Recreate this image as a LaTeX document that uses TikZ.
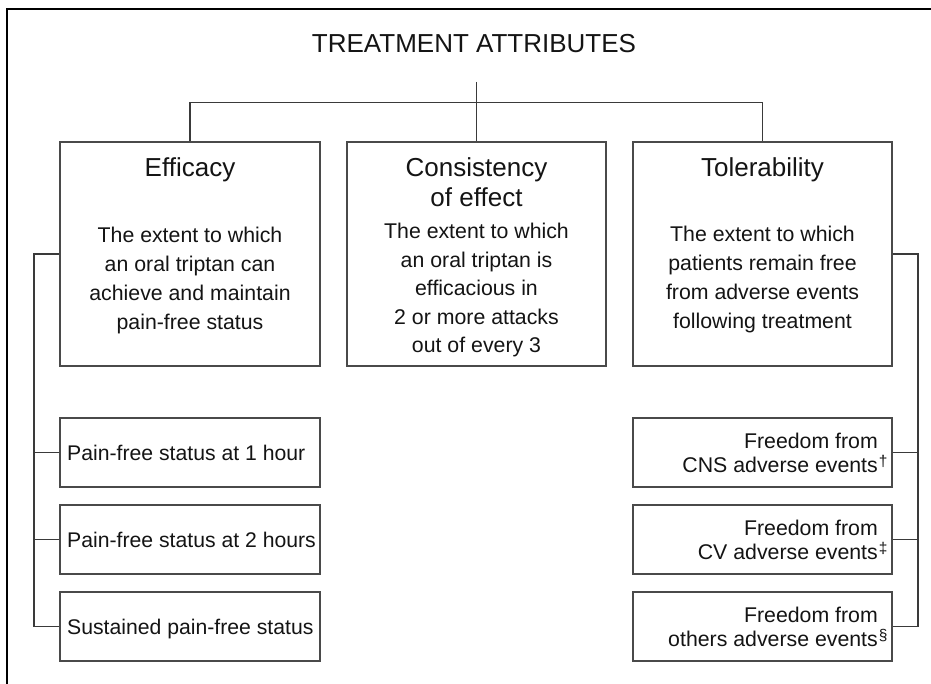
\documentclass[tikz,border=0pt]{standalone}
\usepackage{fontspec}
\setmainfont{Liberation Sans}
\newcommand\cstack[1]{\vtop{\halign{\hfil##\hfil\cr#1\crcr}}}
\newcommand\rstack[1]{\vtop{\halign{\hfil##\cr#1\crcr}}}
\newcommand\supmark[1]{\rlap{\hspace{1pt}\raisebox{5.5pt}{\fontsize{15.5}{15.5}\selectfont #1}}}
\definecolor{ink}{HTML}{141414}
\definecolor{boxgray}{HTML}{4A4A4A}
\definecolor{linegray}{HTML}{3A3A3A}
\tikzset{
  frameline/.style={draw=black, line width=1.6pt},
  bigbox/.style={draw=boxgray, line width=1.4pt, inner sep=0pt, minimum width=259pt, minimum height=224pt},
  subbox/.style={draw=boxgray, line width=1.4pt, inner sep=0pt, minimum width=259pt, minimum height=69pt},
  conn/.style={draw=linegray, line width=1.2pt},
  maintitle/.style={anchor=base, inner sep=0pt, text=ink, font=\fontsize{26}{30}\selectfont},
  boxtitle/.style={anchor=base, inner sep=0pt, text=ink, font=\fontsize{26}{30}\selectfont},
  boxbody/.style={anchor=base, inner sep=0pt, text=ink, font=\fontsize{21.3}{28.7}\selectfont},
  subtext/.style={anchor=base west, inner sep=0pt, text=ink, font=\fontsize{21.2}{24}\selectfont},
  subtextr/.style={anchor=base east, inner sep=0pt, text=ink, font=\fontsize{21.3}{24}\selectfont}
}
\begin{document}
\begin{tikzpicture}[x=1pt,y=-1pt]
\useasboundingbox (0,0) rectangle (931,684);
\fill[white] (0,0) rectangle (931,684);
\draw[frameline] (6.7,684) -- (6.7,9.3) -- (931,9.3);

% title
\node[maintitle] (title) at (474,53) {TREATMENT ATTRIBUTES};
\coordinate (tl) at (476.5,82);

% main boxes
\node[bigbox, minimum width=260pt] (efb) at (190,254) {};
\node[bigbox] (mib) at (476.5,254) {};
\node[bigbox] (tob) at (762.5,254) {};

\node[boxtitle] (eft) at (190,177) {Efficacy};
\node[boxbody] (efd) at (190,243) {\cstack{The extent to which\cr an oral triptan can\cr achieve and maintain\cr pain-free status}};

\node[boxtitle] (mit) at (476.5,177) {\cstack{Consistency\cr of effect}};
\node[boxbody, font=\fontsize{21.3}{28.5}\selectfont] (mid) at (476.5,239) {\cstack{The extent to which\cr an oral triptan is\cr efficacious in\cr 2 or more attacks\cr out of every 3}};

\node[boxtitle] (tot) at (762.5,177) {Tolerability};
\node[boxbody] (tod) at (762.5,242) {\cstack{The extent to which\cr patients remain free\cr from adverse events\cr following treatment}};

% left sub boxes
\node[subbox, minimum width=260pt] (s1) at (190,452.5) {};
\node[subbox, minimum width=260pt] (s2) at (190,539.5) {};
\node[subbox, minimum width=260pt] (s3) at (190,626.5) {};
\node[subtext] (s1t) at (67,460.5) {Pain-free status at 1 hour};
\node[subtext] (s2t) at (67,547) {Pain-free status at 2 hours};
\node[subtext] (s3t) at (67,634) {Sustained pain-free status};

% right sub boxes
\node[subbox] (r1) at (762.5,452.5) {};
\node[subbox] (r2) at (762.5,539.5) {};
\node[subbox] (r3) at (762.5,626.5) {};
\node[subtextr] (r1t) at (878,448) {\rstack{Freedom from\cr CNS adverse events\supmark{†}}};
\node[subtextr] (r2t) at (878,535) {\rstack{Freedom from\cr CV adverse events\supmark{‡}}};
\node[subtextr] (r3t) at (878,622) {\rstack{Freedom from\cr others adverse events\supmark{§}}};

% connectors top
\coordinate (hbus) at (190,102.5);
\draw[conn] (efb.north) -- (hbus) -| (tob.north);
\draw[conn] (tl) -- (mib.north);

% left bracket
\coordinate (lbus) at (34,254);
\draw[conn] (efb.west) -- (lbus) |- (s3.west);
\draw[conn] (s1.west) -- (s1.west -| lbus);
\draw[conn] (s2.west) -- (s2.west -| lbus);

% right bracket
\coordinate (rbus) at (918,254);
\draw[conn] (tob.east) -- (rbus) |- (r3.east);
\draw[conn] (r1.east) -- (r1.east -| rbus);
\draw[conn] (r2.east) -- (r2.east -| rbus);
\end{tikzpicture}
\end{document}
